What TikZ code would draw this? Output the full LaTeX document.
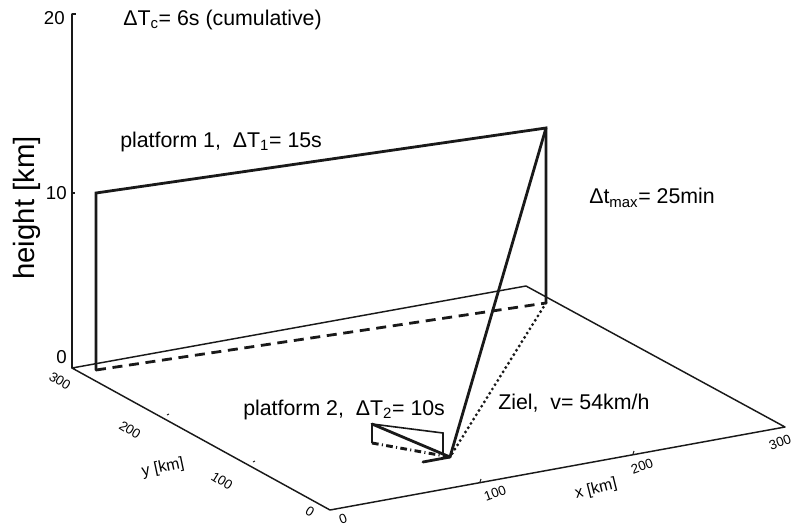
\documentclass[tikz,border=0pt]{standalone}
\usepackage{fontspec}
\setmainfont{Liberation Sans}
\tikzset{
  axisline/.style={line width=1.1pt, draw=black!90, line cap=round, line join=round},
  tickline/.style={line width=0.8pt, draw=black!90},
  heavy/.style={line width=2.1pt, draw=black!90, line cap=round, line join=miter},
  thinline/.style={line width=1.2pt, draw=black!90},
  heavydash/.style={line width=2.1pt, draw=black!90, dash pattern=on 7.5pt off 5pt},
  dotline/.style={line width=2.4pt, draw=black!90, line cap=round, dash pattern=on 0pt off 3.8pt},
  dashdotline/.style={line width=2.2pt, draw=black!90, dash pattern=on 5pt off 2.5pt on 0.8pt off 2.5pt},
  plotlabel/.style={font=\fontsize{16}{19}\selectfont, inner sep=0pt, anchor=west},
  zticklabel/.style={font=\fontsize{14}{16}\selectfont, inner sep=0pt, anchor=east},
  yticklabel/.style={font=\fontsize{10}{12}\selectfont, inner sep=0pt, rotate=-32},
  xticklabel/.style={font=\fontsize{10}{12}\selectfont, inner sep=0pt, rotate=20},
}

\begin{document}
\begin{tikzpicture}[x=0.75pt, y=-0.75pt]
\useasboundingbox (0,0) rectangle (793,529);
\coordinate (back) at (72,368);
\coordinate (front) at (330,510);
\coordinate (xend) at (785,427);
\coordinate (corner) at (526,286);
\coordinate (ztop) at (72,14);
\coordinate (ztick) at (72,193);
\coordinate (p1base) at (96,370);
\coordinate (p1top) at (96,193);
\coordinate (p1far) at (546,128);
\coordinate (p1foot) at (546,303);
\coordinate (ziel) at (450,457);
\coordinate (p2base) at (372,443);
\coordinate (p2top) at (372,424);
\coordinate (p2far) at (443,433);
\coordinate (p2foot) at (443,455);
\coordinate (zielrun) at (423,462);
\draw[axisline] (back) -- (front) -- (xend) -- (corner) -- cycle;
\draw[axisline] (back) -- (ztop);
\draw[tickline] (ztop) -- ++(4,0);
\draw[tickline] (ztick) -- ++(3,0);
\draw[tickline] (167,415) -- ++(2,-1);
\draw[tickline] (253,462) -- ++(2,-1);
\draw[tickline] (480,482) -- ++(1,-3);
\draw[tickline] (633,454) -- ++(1,-3);
\draw[heavydash] (p1base) -- (p1foot);
\draw[heavy] (p1base) -- (p1top) -- (p1far) -- (p1foot);
\draw[heavy] (p1far) -- (ziel);
\draw[dotline] (p1foot) -- (ziel);
\draw[thinline] (p2base) -- (p2top) -- (p2far) -- (p2foot);
\draw[heavy] (p2top) -- (ziel);
\draw[dashdotline] (p2base) -- (ziel);
\draw[heavy] (zielrun) -- (ziel);
\node[zticklabel] (z20) at (65,18) {20};
\node[zticklabel] (z10) at (67,193) {10};
\node[zticklabel] (z0) at (67,357) {0};
\node[font=\fontsize{22}{26}\selectfont, rotate=90, inner sep=0pt] (zlabel) at (27,208) {height [km]};
\node[yticklabel] (y300) at (60,381) {300};
\node[yticklabel] (y200) at (130,430) {200};
\node[yticklabel] (y100) at (222,481) {100};
\node[yticklabel] (y0) at (310,512) {0};
\node[font=\fontsize{12}{14}\selectfont, inner sep=0pt, rotate=12] (ylabel) at (163,468) {y [km]};
\node[xticklabel] (x0) at (343,519) {0};
\node[xticklabel] (x100) at (495,493) {100};
\node[xticklabel] (x200) at (642,466) {200};
\node[xticklabel] (x300) at (780,442) {300};
\node[font=\fontsize{12}{14}\selectfont, inner sep=0pt, rotate=14] (xlabel) at (596,489) {x [km]};
\node[plotlabel] (cumul) at (123,20) {ΔT\textsubscript{c}= 6s (cumulative)};
\node[plotlabel] (plat1) at (120,142) {platform 1,\ \ ΔT\textsubscript{1}= 15s};
\node[plotlabel] (tmax) at (589,198) {Δt\textsubscript{max}= 25min};
\node[plotlabel] (zieltext) at (498,403) {Ziel,\ \ v= 54km/h};
\node[plotlabel] (plat2) at (243,410) {platform 2,\ \ ΔT\textsubscript{2}= 10s};
\end{tikzpicture}
\end{document}
